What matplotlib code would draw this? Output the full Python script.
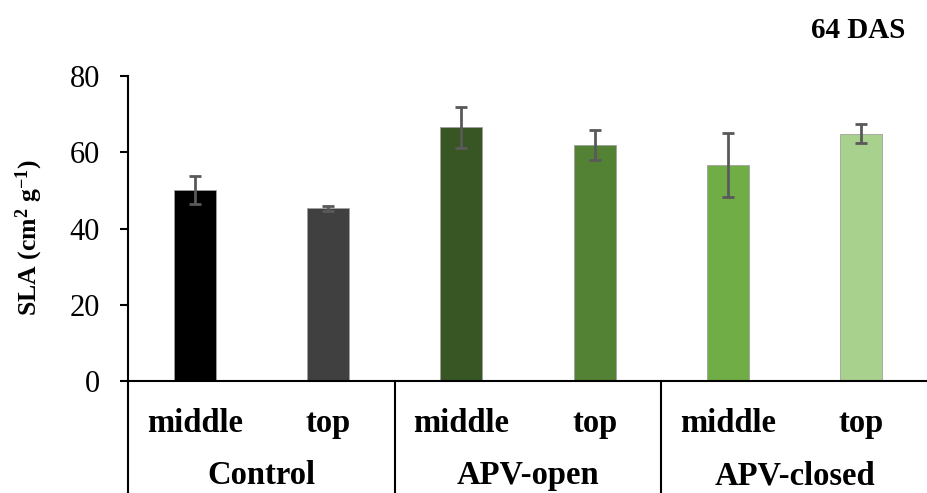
import matplotlib
matplotlib.use("Agg")
import matplotlib.pyplot as plt
import matplotlib.transforms as mtransforms

# data
groups = ["Control", "APV-open", "APV-closed"]
positions = ["middle", "top"]
sla_mean = [50.1, 45.3, 66.5, 61.9, 56.7, 64.8]
sla_err = [3.7, 0.7, 5.5, 4.0, 8.4, 2.5]
bar_colors = ["#000000", "#404040", "#375623", "#548235", "#70AD47", "#A9D18E"]

plt.rcParams["font.family"] = ["Liberation Serif", "DejaVu Serif"]
plt.rcParams["mathtext.fontset"] = "custom"
plt.rcParams["mathtext.rm"] = "Liberation Serif:bold"
plt.rcParams["mathtext.default"] = "rm"

W, H = 928, 493
fig = plt.figure(figsize=(W / 100, H / 100), dpi=100)
ax = fig.add_axes([128 / W, 1 - 381 / H, 800 / W, 305 / H])

x = list(range(len(sla_mean)))
ax.bar(x, sla_mean, width=0.315, color=bar_colors, edgecolor="#a0a0a0", linewidth=0.6,
       yerr=sla_err, error_kw=dict(ecolor="#595959", elinewidth=2, capsize=4.5, capthick=2))

ax.set_xlim(-0.5, len(x) - 0.5)
ax.set_ylim(0, 80)
ax.set_yticks([0, 20, 40, 60, 80])
ax.tick_params(axis="y", labelsize=22, length=6, width=1.5, pad=14)
ax.set_xticks([])
for s in ["top", "right"]:
    ax.spines[s].set_visible(False)
ax.spines["left"].set_linewidth(1.5)
ax.spines["bottom"].set_linewidth(1.5)

ax.set_ylabel("SLA (cm$^{2}$ g$^{-1}$)", fontsize=18.5, fontweight="bold")
ax.yaxis.set_label_coords(-0.104, 0.47)

# category table under the axis
trans = mtransforms.blended_transform_factory(ax.transData, ax.transAxes)
low = -(H - 381) / 305
for sep in [-0.5, 1.5, 3.5]:
    ax.plot([sep, sep], [0, low], transform=trans, color="black", lw=1.5, clip_on=False)

for i in x:
    ax.text(i, -0.138, positions[i % 2], transform=trans, ha="center", va="center",
            fontsize=23.5, fontweight="bold")
for g, name in enumerate(groups):
    ax.text(2 * g + 0.5, -0.31, name, transform=trans, ha="center", va="center",
            fontsize=23.5, fontweight="bold")

fig.text(858 / W, 1 - 30 / H, "64 DAS", ha="center", va="center", fontsize=21, fontweight="bold")

fig.savefig("out.png", dpi=100)
